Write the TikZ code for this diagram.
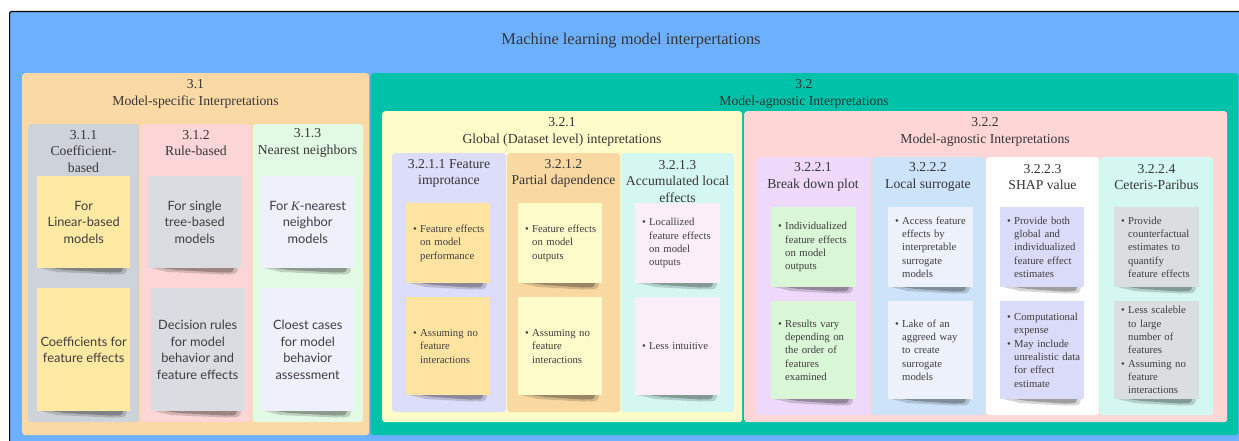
\documentclass[tikz,border=0pt]{standalone}
\usepackage{fontspec}
\setmainfont{Liberation Serif}
\newfontfamily\notesans{Lato}

% panel and note colours
\definecolor{bgblue}{HTML}{6CB0FF}
\definecolor{tealbox}{HTML}{00C2A8}
\definecolor{peach}{HTML}{FAD9A4}
\definecolor{lemon}{HTML}{FDFBC8}
\definecolor{rose}{HTML}{FED6D6}
\definecolor{slate}{HTML}{CED3DA}
\definecolor{pinkcol}{HTML}{FCD6D6}
\definecolor{mintcol}{HTML}{E2F9E3}
\definecolor{lavcol}{HTML}{DCDDFA}
\definecolor{orangecol}{HTML}{FAD8A2}
\definecolor{aquacol}{HTML}{D4F8F1}
\definecolor{lilaccol}{HTML}{EED9FB}
\definecolor{skycol}{HTML}{CDE3FA}
\definecolor{noteyellow}{HTML}{FEE9A3}
\definecolor{notegray}{HTML}{D9DDE2}
\definecolor{notepale}{HTML}{EEF0FC}
\definecolor{noteamber}{HTML}{FEE4A0}
\definecolor{notelemon}{HTML}{FDFBC9}
\definecolor{notepink}{HTML}{FCEEF9}
\definecolor{notegreen}{HTML}{D9F6D6}
\definecolor{notemist}{HTML}{EDF1FB}
\definecolor{notelav}{HTML}{DADBF8}
\definecolor{notestone}{HTML}{DADEE1}
\definecolor{ink}{HTML}{363636}
\definecolor{ink2}{HTML}{3E3E3E}

\tikzset{
  panel/.style={rounded corners=3pt, inner sep=0pt, anchor=north west, draw=none},
  notebox/.style={inner sep=0pt, anchor=north west, draw=none},
  head/.style={align=center, text=ink, inner sep=0pt, font=\fontsize{13.7}{16.6}\selectfont},
  titletext/.style={align=center, text=ink, inner sep=0pt, font=\fontsize{16.4}{19}\selectfont},
  sanstxt/.style={align=center, text=ink2, inner sep=0pt, font=\notesans\fontsize{12.8}{16.6}\selectfont},
  bultxt/.style={align=left, text=ink2, inner sep=0pt, anchor=west, text width=76pt, font=\fontsize{10.7}{13.3}\selectfont},
  shadelight/.style={fill=black, opacity=.16},
  shadedark/.style={fill=black, opacity=.26},
}

% rounded background panel: name, x1, y1, x2, y2, fill
\newcommand\panelbox[6]{%
  \pgfmathsetmacro\pw{#4-#2}\pgfmathsetmacro\ph{#5-#3}%
  \node[panel, fill=#6, minimum width=\pw pt, minimum height=\ph pt] (#1) at (#2,#3) {};}

% sticky note with a curled shadow under its lower edge: name, x1, y1, x2, y2, fill
\newcommand\stickynote[6]{%
  \pgfmathsetmacro\pw{#4-#2}\pgfmathsetmacro\ph{#5-#3}%
  \fill[shadelight] ({#2+3},{#5}) -- ({#4-3},{#5}) .. controls ({#4-4},{#5+6.5}) .. ({#4-20},{#5+6.5}) -- ({#2+20},{#5+4}) -- cycle;
  \fill[shadedark] ({#2+14},{#5}) -- ({#4-7},{#5}) .. controls ({#4-8},{#5+4.5}) .. ({#4-20},{#5+4.5}) -- ({#2+28},{#5+2}) -- cycle;
  \node[notebox, fill=#6, minimum width=\pw pt, minimum height=\ph pt] (#1) at (#2,#3) {};}

% one bulleted paragraph with hanging indent
\newcommand\bul[1]{\par\noindent\hangindent=7pt\hangafter=1\makebox[7pt][l]{\textbullet}#1\par}

\begin{document}
\begin{tikzpicture}[x=1pt,y=-1pt]
\useasboundingbox (0,0) rectangle (1239,441);
\clip (0,0) rectangle (1239,441);
\fill[white] (0,0) rectangle (1239,441);

% outer frame
\node[panel, fill=bgblue, draw=black, line width=1.2pt, rounded corners=2pt,
      minimum width=1300pt, minimum height=500pt] (outer) at (9,11) {};
\node[titletext] (title) at (631,41) {Machine learning model interpertations};

% ---- 3.1 model-specific ----
\panelbox{ms}{22}{73}{369}{435}{peach}
\node[head] (msh) at (195.5,94) {3.1\\Model-specific Interpretations};

\panelbox{c311}{28}{124}{139}{422}{slate}
\panelbox{c312}{140.5}{124}{251}{422}{pinkcol}
\panelbox{c313}{252.5}{124}{363}{422}{mintcol}
\node[head] (h311) at (83.5,151.5) {3.1.1\\Coefficient-\\based};
\node[head] (h312) at (196,143) {3.1.2\\Rule-based};
\node[head] (h313) at (307.5,143) {3.1.3\\Nearest neighbors};

\stickynote{n311a}{37}{176}{130}{268}{noteyellow}
\node[sanstxt] (n311at) at (n311a.center) {For\\Linear-based\\models};
\stickynote{n311b}{37}{288}{130}{411}{noteyellow}
\node[sanstxt] (n311bt) at (n311b.center) {Coefficients for\\feature effects};

\stickynote{n312a}{148}{176}{241}{268}{notegray}
\node[sanstxt] (n312at) at (n312a.center) {For single\\tree-based\\models};
\stickynote{n312b}{151}{288}{244}{411}{notegray}
\node[sanstxt] (n312bt) at (n312b.center) {Decision rules\\for model\\behavior and\\feature effects};

\stickynote{n313a}{261}{176}{354}{268}{notepale}
\node[sanstxt] (n313at) at (n313a.center) {For {\rmfamily\itshape K}-nearest\\neighbor\\models};
\stickynote{n313b}{261}{288}{354}{411}{notepale}
\node[sanstxt] (n313bt) at (n313b.center) {Cloest cases\\for model\\behavior\\assessment};

% ---- 3.2 model-agnostic ----
\panelbox{ma}{370.5}{73}{1238}{435}{tealbox}
\node[head] (mah) at (804,94) {3.2\\Model-agnostic Interpretations};

% 3.2.1 global
\panelbox{gl}{382}{111}{742}{422}{lemon}
\node[head] (glh) at (562,132) {3.2.1\\Global (Dataset level) intepretations};

\panelbox{c3211}{392}{153}{506}{412}{lavcol}
\panelbox{c3212}{507}{153}{620}{412}{orangecol}
\panelbox{c3213}{621}{153}{734}{412}{aquacol}
\node[head] (h3211) at (449,173.5) {3.2.1.1 Feature\\improtance};
\node[head] (h3212) at (563.5,173.5) {3.2.1.2\\Partial dapendence};
\node[head] (h3213) at (677.5,181.5) {3.2.1.3\\Accumulated local\\effects};

\stickynote{n3211a}{406}{203}{490}{283}{noteamber}
\node[bultxt] (n3211at) at ([xshift=7pt,yshift=3pt]n3211a.west) {\bul{Feature effects\newline on model\newline performance}};
\stickynote{n3211b}{406}{297}{490}{395}{noteamber}
\node[bultxt] (n3211bt) at ([xshift=7pt,yshift=3pt]n3211b.west) {\bul{Assuming no\newline feature\newline interactions}};

\stickynote{n3212a}{518}{203}{602}{283}{notelemon}
\node[bultxt] (n3212at) at ([xshift=7pt,yshift=3pt]n3212a.west) {\bul{Feature effects\newline on model\newline outputs}};
\stickynote{n3212b}{518}{297}{602}{395}{notelemon}
\node[bultxt] (n3212bt) at ([xshift=7pt,yshift=3pt]n3212b.west) {\bul{Assuming no\newline feature\newline interactions}};

\stickynote{n3213a}{635}{203}{720}{283}{notepink}
\node[bultxt] (n3213at) at ([xshift=7pt,yshift=3pt]n3213a.west) {\bul{Locallized\newline feature effects\newline on model\newline outputs}};
\stickynote{n3213b}{635}{297}{720}{395}{notepink}
\node[bultxt] (n3213bt) at ([xshift=7pt,yshift=3pt]n3213b.west) {\bul{Less intuitive}};

% 3.2.2 local
\panelbox{lo}{744}{111}{1227}{422}{rose}
\node[head] (loh) at (985,132) {3.2.2\\Model-agnostic Interpretations};

\panelbox{c3221}{756}{157}{870}{415}{lilaccol}
\panelbox{c3222}{871}{157}{985}{415}{skycol}
\panelbox{c3223}{986}{157}{1099}{415}{white}
\panelbox{c3224}{1100}{157}{1213}{415}{aquacol}
\node[head] (h3221) at (813,177) {3.2.2.1\\Break down plot};
\node[head] (h3222) at (928,177) {3.2.2.2\\Local surrogate};
\node[head] (h3223) at (1042.5,177) {3.2.2.3\\SHAP value};
\node[head] (h3224) at (1156.5,177) {3.2.2.4\\Ceteris-Paribus};

\stickynote{n3221a}{771}{207}{856}{287}{notegreen}
\node[bultxt] (n3221at) at ([xshift=7pt,yshift=3pt]n3221a.west) {\bul{Individualized\newline feature effects\newline on model\newline outputs}};
\stickynote{n3221b}{771}{301}{856}{399}{notegreen}
\node[bultxt] (n3221bt) at ([xshift=7pt,yshift=3pt]n3221b.west) {\bul{Results vary\newline depending on\newline the order of\newline features\newline examined}};

\stickynote{n3222a}{888}{207}{973}{287}{notemist}
\node[bultxt] (n3222at) at ([xshift=7pt,yshift=3pt]n3222a.west) {\bul{Access feature\newline effects by\newline interpretable\newline surrogate\newline models}};
\stickynote{n3222b}{888}{301}{973}{399}{notemist}
\node[bultxt] (n3222bt) at ([xshift=7pt,yshift=3pt]n3222b.west) {\bul{Lake of an\newline aggreed way\newline to create\newline surrogate\newline models}};

\stickynote{n3223a}{1000}{207}{1084}{287}{notelav}
\node[bultxt] (n3223at) at ([xshift=7pt,yshift=3pt]n3223a.west) {\bul{Provide both\newline global and\newline individualized\newline feature effect\newline estimates}};
\stickynote{n3223b}{1000}{301}{1084}{399}{notelav}
\node[bultxt] (n3223bt) at ([xshift=7pt,yshift=3pt]n3223b.west) {\bul{Computational\newline expense}\bul{May include\newline unrealistic data\newline for effect\newline estimate}};

\stickynote{n3224a}{1114}{207}{1199}{287}{notestone}
\node[bultxt] (n3224at) at ([xshift=7pt,yshift=3pt]n3224a.west) {\bul{Provide\newline counterfactual\newline estimates to\newline quantify\newline feature effects}};
\stickynote{n3224b}{1114}{301}{1199}{399}{notestone}
\node[bultxt] (n3224bt) at ([xshift=7pt,yshift=3pt]n3224b.west) {\bul{Less scaleble\newline to large\newline number of\newline features}\bul{Assuming no\newline feature\newline interactions}};

\end{tikzpicture}
\end{document}
